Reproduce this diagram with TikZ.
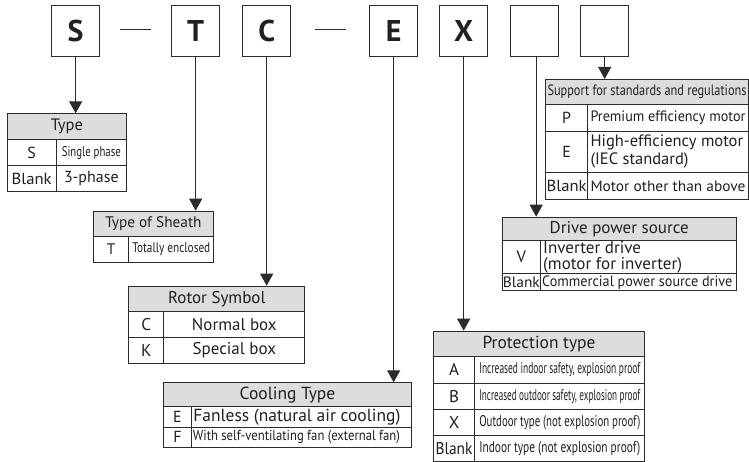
\documentclass[tikz,border=0pt]{standalone}
\usepackage{fontspec}
\setmainfont{PT Sans}
\usepackage{graphicx}
\usetikzlibrary{arrows.meta}
\definecolor{ln}{HTML}{2B2B2B}
\definecolor{hd}{HTML}{DCDDDE}
\definecolor{tx}{HTML}{231F20}
\newcommand\cond[2]{\resizebox{#1pt}{\height}{#2}}
\newcommand\mycell[7]{\node[cell,#6,minimum width={#4pt-#2pt},minimum height={#5pt-#3pt}] (#1) at (#2,#3) {#7};}
\tikzset{
  codebox/.style={draw=ln, line width=1.3pt, minimum width=48pt, minimum height=51pt, inner sep=0pt,
    anchor=north west, text=tx, font=\fontsize{30}{30}\selectfont\bfseries},
  fs/.style={font=\fontsize{#1}{16.5}\selectfont},
  cell/.style={draw=ln, line width=1pt, anchor=north west, inner sep=0pt, text=tx,
    fs=16, fill=white},
  hdr/.style={fill=hd},
  ltxt/.style={anchor=west, inner sep=0pt, text=tx, fs=16, align=left},
  arr/.style={draw=ln, line width=1pt, -{Triangle[width=13pt,length=12pt]}},
  hyph/.style={draw=ln, line width=1.3pt}
}
\begin{document}
\begin{tikzpicture}[x=1pt,y=-1pt]
\useasboundingbox (0,0) rectangle (749,462);
% code boxes
\node[codebox] (bS) at (51,5) {S};
\node[codebox] (bT) at (171,5) {T};
\node[codebox] (bC) at (242,5) {C};
\node[codebox] (bE) at (369,5) {E};
\node[codebox] (bX) at (439,5) {X};
\node[codebox] (b6) at (510,5) {};
\node[codebox] (b7) at (580,5) {};
\coordinate (d1a) at (120,29.5); \coordinate (d1b) at (151,29.5);
\coordinate (d2a) at (315,29.5); \coordinate (d2b) at (346,29.5);
\draw[hyph] (d1a) -- (d1b);
\draw[hyph] (d2a) -- (d2b);

% Type
\mycell{tyh}{6.7}{113.3}{126}{139.3}{hdr,fs=16.5}{Type}
\mycell{tyk1}{6.7}{139.3}{55.7}{165.3}{}{S}
\mycell{tyv1}{55.7}{139.3}{126}{165.3}{fs=14}{\cond{59}{Single phase}}
\mycell{tyk2}{6.7}{165.3}{55.7}{190.7}{}{\cond{40}{Blank}}
\mycell{tyv2}{55.7}{165.3}{126}{190.7}{}{3-phase}

% Sheath
\mycell{shh}{92.7}{210.7}{213.3}{236}{hdr,fs=15.3}{Type of Sheath}
\mycell{shk}{92.7}{236}{128.3}{261.7}{fs=15.3}{T}
\mycell{shv}{128.3}{236}{213.3}{261.7}{fs=14}{\cond{78}{Totally enclosed}}

% Rotor
\mycell{roh}{128.3}{285.7}{304.3}{311}{hdr,fs=17}{Rotor Symbol}
\mycell{rok1}{128.3}{311}{163.3}{336.7}{fs=17}{C}
\mycell{rov1}{163.3}{311}{304.3}{336.7}{fs=17}{Normal box}
\mycell{rok2}{128.3}{336.7}{163.3}{363.3}{fs=17}{K}
\mycell{rov2}{163.3}{336.7}{304.3}{363.3}{fs=17}{Special box}

% Cooling
\mycell{coh}{163.3}{382.3}{410.7}{406}{hdr,fs=17.5}{Cooling Type}
\mycell{cok1}{163.3}{406}{190.7}{426.7}{fs=16}{E}
\mycell{cov1}{190.7}{406}{410.7}{426.7}{}{}
\mycell{cok2}{163.3}{426.7}{190.7}{446.7}{fs=16}{F}
\mycell{cov2}{190.7}{426.7}{410.7}{446.7}{}{}
\node[ltxt,fs=17.5] (cot1) at ([xshift=2.5pt]cov1.west) {\cond{207}{Fanless (natural air cooling)}};
\node[ltxt,fs=14.5] (cot2) at ([xshift=2pt]cov2.west) {\cond{207}{With self-ventilating fan (external fan)}};

% Protection
\mycell{prh}{432.7}{330.7}{644.3}{356}{hdr,fs=17.4}{Protection type}
\mycell{prk1}{432.7}{356}{474.3}{382.7}{fs=17}{A}
\mycell{prv1}{474.3}{356}{644.3}{382.7}{fs=15.5}{\cond{161}{Increased indoor safety, explosion proof}}
\mycell{prk2}{432.7}{382.7}{474.3}{408.7}{fs=17}{B}
\mycell{prv2}{474.3}{382.7}{644.3}{408.7}{fs=15.5}{\cond{161}{Increased outdoor safety, explosion proof}}
\mycell{prk3}{432.7}{408.7}{474.3}{435.3}{fs=17}{X}
\mycell{prv3}{474.3}{408.7}{644.3}{435.3}{fs=15.5}{\cond{161}{Outdoor type (not explosion proof)}}
\mycell{prk4}{432.7}{435.3}{474.3}{461.3}{fs=17}{\cond{37}{Blank}}
\mycell{prv4}{474.3}{435.3}{644.3}{461.3}{fs=15.5}{\cond{161}{Indoor type (not explosion proof)}}

% Support
\mycell{suh}{545}{79}{748}{104.3}{hdr,fs=15}{\cond{199}{Support for standards and regulations}}
\mycell{suk1}{545}{104.3}{587.3}{130.7}{fs=16}{P}
\mycell{suv1}{587.3}{104.3}{748}{130.7}{}{}
\mycell{suk2}{545}{130.7}{587.3}{171.7}{fs=16}{E}
\mycell{suv2}{587.3}{130.7}{748}{171.7}{}{}
\mycell{suk3}{545}{171.7}{587.3}{199.3}{fs=16}{\cond{40}{Blank}}
\mycell{suv3}{587.3}{171.7}{748}{199.3}{}{}
\node[ltxt,fs=15] (sut1) at ([xshift=3pt]suv1.west) {\cond{155}{Premium efficiency motor}};
\node[ltxt,font=\fontsize{16.5}{18}\selectfont] (sut2) at ([xshift=3pt]suv2.west) {High-efficiency motor\\(IEC standard)};
\node[ltxt,fs=15] (sut3) at ([xshift=3pt]suv3.west) {\cond{155}{Motor other than above}};

% Drive
\mycell{drh}{501.7}{216.7}{735.7}{240}{hdr,fs=17}{Drive power source}
\mycell{drk1}{501.7}{240}{540}{273.3}{fs=16.5}{V}
\mycell{drv1}{540}{240}{735.7}{273.3}{}{}
\mycell{drk2}{501.7}{273.3}{540}{290.3}{fs=15}{\cond{37}{Blank}}
\mycell{drv2}{540}{273.3}{735.7}{290.3}{}{}
\node[ltxt,font=\fontsize{17}{16.5}\selectfont] (drt1) at ([xshift=3pt]drv1.west) {Inverter drive\\(motor for inverter)};
\node[ltxt,fs=15] (drt2) at ([xshift=2pt]drv2.west) {\cond{190}{Commercial power source drive}};

% arrows
\draw[arr] (bS.south) -- (bS.south |- tyh.north);
\draw[arr] (bT.south) -- (bT.south |- shh.north);
\draw[arr] (bC.south) -- (bC.south |- roh.north);
\draw[arr] (bE.south) -- (bE.south |- coh.north);
\draw[arr] (bX.south) -- (bX.south |- prh.north);
\draw[arr] ([xshift=1.5pt]b6.south) -- ([xshift=1.5pt]b6.south |- drh.north);
\draw[arr] (b7.south) -- (b7.south |- suh.north);
\end{tikzpicture}
\end{document}
